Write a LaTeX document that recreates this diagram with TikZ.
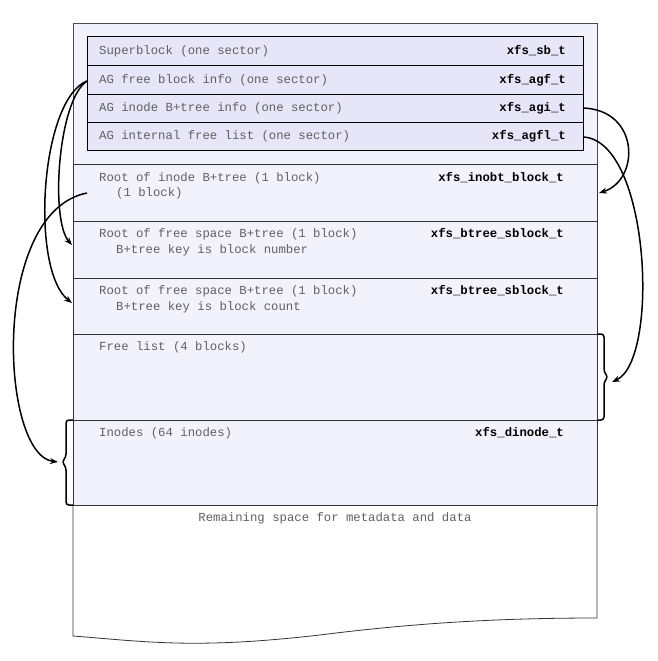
\documentclass[tikz,border=0pt]{standalone}
\usepackage{fontspec}
\setmonofont{Liberation Mono}
\usetikzlibrary{arrows.meta}
\definecolor{inner}{HTML}{E6E6F8}
\definecolor{outer}{HTML}{F2F2FC}
\definecolor{txt}{HTML}{606060}
\begin{document}
\begin{tikzpicture}[x=1pt,y=-1pt,
  plain/.style={font=\ttfamily\fontsize{12.3}{14}\selectfont,text=txt,anchor=west,inner sep=0},
  bold/.style={font=\ttfamily\bfseries\fontsize{12.3}{14}\selectfont,text=black,anchor=east,inner sep=0},
  link/.style={line width=1.5pt,-{Stealth[length=8pt,width=6pt]}},
  sect/.style={draw=black!80,line width=0.8pt,fill=outer}]
\useasboundingbox (0,0) rectangle (658,661);
% outer body
\fill[outer] (73,23) rectangle (597,505);
\draw[black!70,line width=0.8pt] (73,505) -- (73,23) -- (597,23) -- (597,505);
\draw[black!80,line width=0.8pt] (73,505) -- (73,636) .. controls (150,642) and (200,650) .. (336,633) .. controls (420,623) and (500,618) .. (597,618) -- (597,505);
% sections
\draw[sect] (73,164) rectangle (597,221);
\draw[sect] (73,221) rectangle (597,278);
\draw[sect] (73,278) rectangle (597,334);
\draw[sect] (73,334) rectangle (597,420);
\draw[sect] (73,420) rectangle (597,505);
% inner box
\foreach \a/\b in {37/66,66/94,94/122,122/150}{
  \draw[fill=inner,draw=black,line width=1pt] (87,\a) rectangle (583,\b);}
% texts
\node[plain] (sb) at (99,51) {Superblock (one sector)};
\node[bold] (sbt) at (566,51) {xfs\_sb\_t};
\node[plain] (agf) at (99,80) {AG free block info (one sector)};
\node[bold] (agft) at (566,80) {xfs\_agf\_t};
\node[plain] (agi) at (99,108) {AG inode B+tree info (one sector)};
\node[bold] (agit) at (566,108) {xfs\_agi\_t};
\node[plain] (agfl) at (99,136) {AG internal free list (one sector)};
\node[bold] (agflt) at (566,136) {xfs\_agfl\_t};
\node[plain] (ino) at (99,178) {Root of inode B+tree (1 block)};
\node[plain] (ino2) at (116,193) {(1 block)};
\node[bold] (inot) at (564,178) {xfs\_inobt\_block\_t};
\node[plain] (bn) at (99,234) {Root of free space B+tree (1 block)};
\node[plain] (bn2) at (116,250) {B+tree key is block number};
\node[bold] (bnt) at (564,234) {xfs\_btree\_sblock\_t};
\node[plain] (bc) at (99,291) {Root of free space B+tree (1 block)};
\node[plain] (bc2) at (116,307) {B+tree key is block count};
\node[bold] (bct) at (564,291) {xfs\_btree\_sblock\_t};
\node[plain] (fl) at (99,347) {Free list (4 blocks)};
\node[plain] (in) at (99,433) {Inodes (64 inodes)};
\node[bold] (int) at (564,433) {xfs\_dinode\_t};
\node[plain,anchor=center] (rem) at (335,518) {Remaining space for metadata and data};
% braces
\draw[line width=1.5pt,rounded corners=3pt] (597,334) -| (604,372) -- (608,377) -- (604,382) |- (597,420);
\draw[line width=1.5pt,rounded corners=3pt] (73,420) -| (66,457) -- (62,462) -- (66,467) |- (73,505);
% connector points
\coordinate (agfL) at (87,81);
\coordinate (bnL) at (72,245);
\coordinate (bcL) at (72,303);
\coordinate (inoL) at (87,193);
\coordinate (inB) at (58,462);
\coordinate (agiR) at (583,108);
\coordinate (inoR) at (599,193);
\coordinate (agflR) at (583,137);
\coordinate (flB) at (612,382);
\draw[link] (agfL) .. controls (58,100) and (50,220) .. (bnL);
\draw[link] (agfL) .. controls (40,100) and (30,270) .. (bcL);
\draw[link] (inoL) .. controls (-10,212) and (0,455) .. (inB);
\draw[link] (agiR) .. controls (640,110) and (640,180) .. (inoR);
\draw[link] (agflR) .. controls (650,140) and (660,360) .. (flB);
\end{tikzpicture}
\end{document}
